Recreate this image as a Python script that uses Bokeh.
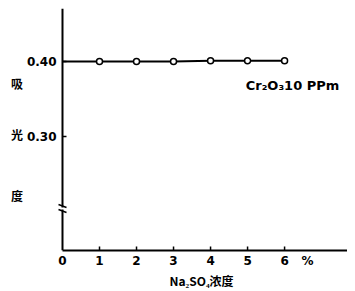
from bokeh.plotting import figure
from bokeh.models import Label, FixedTicker, Range1d
from bokeh.embed import file_html
from bokeh.resources import INLINE

# data
na2so4 = [0, 1, 2, 3, 4, 5, 6]
absorbance = [0.400, 0.400, 0.400, 0.400, 0.401, 0.401, 0.401]
marker_x = na2so4[1:]
marker_y = absorbance[1:]
x_ticks = [1, 2, 3, 4, 5, 6]
x_label_ticks = [0, 1, 2, 3, 4, 5, 6, 6.62]
x_tick_labels = {0: "0", 1: "1", 2: "2", 3: "3", 4: "4", 5: "5", 6: "6", 6.62: "%"}
y_ticks = [0.30, 0.40]
y_tick_labels = {0.30: "0.30", 0.40: "0.40"}
series_label = "Cr₂O₃10 PPm"
x_title = "Na₂SO₄浓度"
y_title = "\n\n吸" + "\n" * 5 + "光" + "\n" * 6 + "度"

y_low, y_top = 0.148, 0.4707
break_lo, break_hi = 0.2027, 0.2053

p = figure(width=347, height=291, output_backend="svg", toolbar_location=None,
           x_range=Range1d(-0.189, 7.70), y_range=Range1d(y_low, y_top),
           min_border_left=55, min_border_right=0, min_border_top=8, min_border_bottom=41)
p.outline_line_color = None
p.grid.visible = False
p.background_fill_color = "white"

for ax in (p.xaxis[0], p.yaxis[0]):
    ax.axis_line_width = 2
    ax.axis_line_color = "black"
    ax.major_tick_in = 0
    ax.major_tick_out = 0
    ax.minor_tick_in = 0
    ax.minor_tick_out = 0
    ax.major_tick_line_color = None
    ax.minor_tick_line_color = None
    ax.major_label_text_font = "DejaVu Sans"
    ax.major_label_text_font_style = "bold"
    ax.major_label_text_font_size = "12px"
    ax.major_label_text_color = "black"
    ax.axis_label_text_font = "Noto Sans CJK SC"
    ax.axis_label_text_font_style = "bold"
    ax.axis_label_text_font_size = "12px"
    ax.axis_label_text_color = "black"

xa = p.xaxis[0]
xa.bounds = (0, 7.70)
xa.ticker = FixedTicker(ticks=x_label_ticks)
xa.major_label_overrides = x_tick_labels
xa.major_label_standoff = 3
xa.axis_label = x_title
xa.axis_label_standoff = 1

ya = p.yaxis[0]
ya.axis_line_color = None
ya.ticker = FixedTicker(ticks=y_ticks)
ya.major_label_overrides = y_tick_labels
ya.major_label_standoff = -1
ya.axis_label = y_title
ya.axis_label_orientation = "horizontal"
ya.axis_label_text_line_height = 0.6
ya.axis_label_standoff = 1

# y axis line with a break
p.segment(x0=[0, 0], y0=[y_low, break_hi], x1=[0, 0], y1=[break_lo, y_top],
          line_color="black", line_width=2)
p.segment(x0=[-0.108, -0.108], y0=[0.2093, 0.2027], x1=[0.108, 0.108], y1=[0.2053, 0.1987],
          line_color="black", line_width=1.5)

# tick marks (inside)
p.segment(x0=x_ticks, y0=[y_low] * len(x_ticks), x1=x_ticks, y1=[y_low + 0.0053] * len(x_ticks),
          line_color="black", line_width=1.5)
p.segment(x0=[0] * len(y_ticks), y0=y_ticks, x1=[0.108] * len(y_ticks), y1=y_ticks,
          line_color="black", line_width=1.5)

# data line
p.line(na2so4, absorbance, line_color="black", line_width=2)
p.scatter(marker_x, marker_y, size=6, fill_color="white", line_color="black", line_width=1.5)

p.add_layout(Label(x=4.95, y=0.368, text=series_label, text_font="DejaVu Sans", text_font_style="bold",
                   text_font_size="13px", text_color="black", text_align="left", text_baseline="middle"))

open("out.html", "w").write(file_html(p, INLINE))
